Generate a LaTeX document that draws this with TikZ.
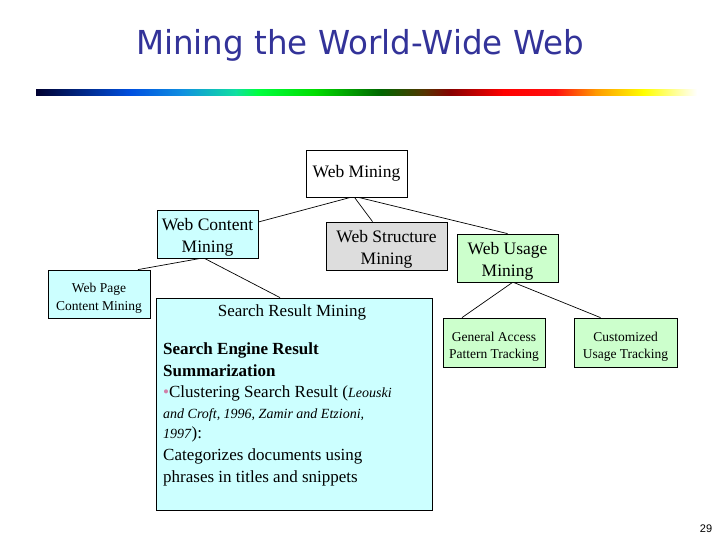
\documentclass[tikz,border=0pt]{standalone}
\usepackage{fontspec}
\setmainfont{Liberation Serif}
\newfontfamily\titlefont{DejaVu Sans}
\newfontfamily\numfont{Liberation Sans}
\definecolor{titleblue}{HTML}{333399}
\definecolor{boxcyan}{HTML}{CCFFFF}
\definecolor{boxgray}{HTML}{DDDDDD}
\definecolor{boxgreen}{HTML}{CCFFCC}
\definecolor{bulletpink}{HTML}{D080A8}
\begin{document}
\begin{tikzpicture}[x=1pt,y=-1pt,
  box/.style={draw=black, line width=0.8pt, align=center, inner sep=0pt, anchor=center},
  bigtxt/.style={label={[font=\fontsize{17.5}{22}\selectfont, align=center, yshift=-3.5pt]center:#1}},
  smalltxt/.style={label={[font=\fontsize{13.5}{17.5}\selectfont, align=center, yshift=-4.5pt]center:#1}},
  conn/.style={draw=black, line width=0.7pt},
  bodyline/.style={anchor=base west, inner sep=0pt}
]
\useasboundingbox (0,0) rectangle (720,540);
\fill[white] (0,0) rectangle (720,540);

% title
\node[anchor=base, inner sep=0pt, text=titleblue] (title) at (360,55)
  {\scalebox{0.985}[1]{\titlefont\fontsize{33}{36}\selectfont Mining the World-Wide Web}};

% gradient bar
\shade[left color={rgb,255:red,0;green,0;blue,48}, right color={rgb,255:red,0;green,80;blue,224}] (36,90) rectangle (131,96);
\shade[left color={rgb,255:red,0;green,80;blue,224}, right color={rgb,255:red,16;green,144;blue,224}] (130.5,90) rectangle (183,96);
\shade[left color={rgb,255:red,16;green,144;blue,224}, right color={rgb,255:red,16;green,224;blue,160}] (182.5,90) rectangle (236,96);
\shade[left color={rgb,255:red,16;green,224;blue,160}, right color={rgb,255:red,0;green,255;blue,64}] (235.5,90) rectangle (258,96);
\shade[left color={rgb,255:red,0;green,255;blue,64}, right color={rgb,255:red,0;green,221;blue,0}] (257.5,90) rectangle (315,96);
\shade[left color={rgb,255:red,0;green,221;blue,0}, right color={rgb,255:red,0;green,102;blue,0}] (314.5,90) rectangle (381,96);
\shade[left color={rgb,255:red,0;green,102;blue,0}, right color={rgb,255:red,85;green,51;blue,0}] (380.5,90) rectangle (425,96);
\shade[left color={rgb,255:red,85;green,51;blue,0}, right color={rgb,255:red,136;green,0;blue,0}] (424.5,90) rectangle (451,96);
\shade[left color={rgb,255:red,136;green,0;blue,0}, right color={rgb,255:red,255;green,0;blue,0}] (450.5,90) rectangle (504,96);
\shade[left color={rgb,255:red,255;green,0;blue,0}, right color={rgb,255:red,255;green,16;blue,16}] (503.5,90) rectangle (556,96);
\shade[left color={rgb,255:red,255;green,16;blue,16}, right color={rgb,255:red,255;green,153;blue,0}] (555.5,90) rectangle (596,96);
\shade[left color={rgb,255:red,255;green,153;blue,0}, right color={rgb,255:red,255;green,255;blue,0}] (595.5,90) rectangle (644,96);
\shade[left color={rgb,255:red,255;green,255;blue,0}, right color=white] (643.5,90) rectangle (697,96);

% boxes
\node[box, font=\fontsize{17.5}{22}\selectfont, fill=white, minimum width=101pt, minimum height=47pt] (wm) at (356.5,173.5) {Web Mining};
\node[box, fill=boxcyan, minimum width=101pt, minimum height=48pt, bigtxt={Web Content\\Mining}] (wc) at (207.5,234) {};
\node[box, fill=boxgray, minimum width=121pt, minimum height=48pt, bigtxt={Web Structure\\Mining}] (ws) at (386.5,246) {};
\node[box, fill=boxgreen, minimum width=101pt, minimum height=48pt, bigtxt={Web Usage\\Mining}] (wu) at (507.5,258) {};
\node[box, fill=boxcyan, minimum width=102pt, minimum height=48pt, smalltxt={Web Page\\Content Mining}] (wp) at (99,294) {};
\node[box, fill=boxgreen, minimum width=102pt, minimum height=49pt, smalltxt={General Access\\Pattern Tracking}] (ga) at (494,342.5) {};
\node[box, fill=boxgreen, minimum width=103pt, minimum height=49pt, smalltxt={Customized\\Usage Tracking}] (cu) at (625.5,342.5) {};
\node[box, fill=boxcyan, minimum width=276pt, minimum height=212pt] (sr) at (294,404) {};

% search result box contents
\node[anchor=base, inner sep=0pt, font=\fontsize{17}{21}\selectfont] (srt) at (292,316) {Search Result Mining};
\node[bodyline, font=\fontsize{17}{21}\selectfont\bfseries] (l1) at (163,354) {Search Engine Result};
\node[bodyline, font=\fontsize{17}{21}\selectfont\bfseries] (l2) at (163,376) {Summarization};
\node[bodyline, font=\fontsize{17}{21}\selectfont] (l3) at (163,397.5) {{\color{bulletpink}\textbullet}Clustering Search Result ({\itshape\fontsize{14}{17}\selectfont Leouski}};
\node[bodyline, font=\fontsize{14}{17}\selectfont\itshape] (l4) at (163,418) {and Croft, 1996, Zamir and Etzioni,};
\node[bodyline, font=\fontsize{14}{17}\selectfont] (l5) at (163,438) {\textit{1997}{\fontsize{17}{21}\selectfont ):}};
\node[bodyline, font=\fontsize{17}{21}\selectfont] (l6) at (163,460) {Categorizes documents using};
\node[bodyline, font=\fontsize{17}{21}\selectfont] (l7) at (163,482) {phrases in titles and snippets};

% connectors
\draw[conn] ([xshift=-6pt]wm.south) -- ([yshift=12pt]wc.east);
\draw[conn] ([xshift=-2pt]wm.south) -- ([xshift=-14pt]ws.north);
\draw[conn] ([xshift=2pt]wm.south) -- (wu.north);
\draw[conn] ([xshift=-7pt]wc.south) -- ([xshift=39pt]wp.north);
\draw[conn] ([xshift=-3pt]wc.south) -- ([xshift=-14pt]sr.north);
\draw[conn] ([xshift=5pt]wu.south) -- ([xshift=-32pt]ga.north);
\draw[conn] ([xshift=6pt]wu.south) -- ([xshift=-25pt]cu.north);

% page number
\node[anchor=base, inner sep=0pt, font=\numfont\fontsize{11}{13}\selectfont] (pg) at (706,532) {29};
\end{tikzpicture}
\end{document}
